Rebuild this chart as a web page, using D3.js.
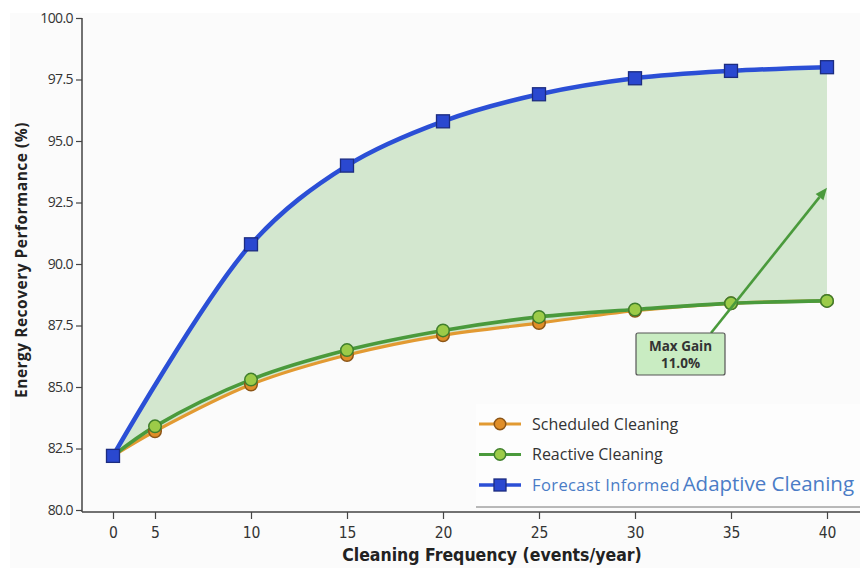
<!DOCTYPE html>
<html>
<head>
<meta charset="utf-8">
<script src="https://cdn.jsdelivr.net/npm/d3@7"></script>
<style>
  html, body { margin: 0; padding: 0; background: #ffffff; }
  svg { display: block; }
</style>
</head>
<body>
<svg id="chart" width="860" height="568"></svg>
<script>
// Cleaning frequency (events/year)
const frequency = [0, 5, 10, 15, 20, 25, 30, 35, 40];
const xTicks = [0, 5, 10, 15, 20, 25, 30, 35, 40];
const yTicks = [80, 82.5, 85, 87.5, 90, 92.5, 95, 97.5, 100];

// Energy recovery performance (%) per strategy
const scheduled = [82.2, 83.2, 85.1, 86.3, 87.1, 87.6, 88.1, 88.4, 88.5];
const reactive  = [82.2, 83.4, 85.3, 86.5, 87.3, 87.85, 88.15, 88.4, 88.5];
const adaptiveFreq = [0, 10, 15, 20, 25, 30, 35, 40];
const adaptive  = [82.2, 90.8, 94.0, 95.8, 96.9, 97.55, 97.85, 98.0];

const seriesNames = ["Scheduled Cleaning", "Reactive Cleaning", "Forecast Informed Adaptive Cleaning"];
const gainLabel = ["Max Gain", "11.0%"];
const arrowTip = { x: 40, y: 93.1 };

const svg = d3.select("#chart");
const W = 860, H = 568;
const plotLeft = 82, plotBottom = 512, plotTop = 18;

// the low end of the frequency axis is compressed
const x = d3.scaleLinear().domain([0, 5, 40]).range([113, 155, 827]);
const y = d3.scaleLinear().domain([80, 100]).range([510, 18]);

svg.append("rect").attr("x", 10).attr("y", 13).attr("width", W - 10).attr("height", H - 13)
  .attr("fill", "#fbfbfb");

// shaded band between adaptive and scheduled strategies
const curveLine = d3.line().x(d => x(d.f)).y(d => y(d.v)).curve(d3.curveCatmullRom.alpha(0.5));
const upperPath = curveLine(adaptiveFreq.map((f, i) => ({ f, v: adaptive[i] })));
const lowerRev = curveLine(frequency.map((f, i) => ({ f, v: scheduled[i] })).reverse());
svg.append("path")
  .attr("d", upperPath + "L" + lowerRev.slice(1) + "Z")
  .attr("fill", "#d3e7cf").attr("stroke", "none");

// axes
const yAxis = d3.axisLeft(y).tickValues(yTicks).tickFormat(d3.format(".1f")).tickSize(6).tickSizeOuter(0);
const gy = svg.append("g").attr("transform", `translate(${plotLeft},0)`).call(yAxis);
gy.select(".domain").attr("d", `M0,${plotTop}V${plotBottom}`).attr("stroke", "#444").attr("stroke-width", 1.5);
gy.selectAll(".tick line").attr("stroke", "#444").attr("stroke-width", 1.2);
gy.selectAll(".tick text").attr("font-family", "'Open Sans', 'DejaVu Sans', sans-serif")
  .attr("font-size", 14).attr("fill", "#333").attr("letter-spacing", "-0.6px");

const xAxis = d3.axisBottom(x).tickValues(xTicks).tickFormat(d3.format("d")).tickSize(7).tickSizeOuter(0);
const gx = svg.append("g").attr("transform", `translate(0,${plotBottom})`).call(xAxis);
gx.select(".domain").attr("d", `M${plotLeft},0H${W}`).attr("stroke", "#444").attr("stroke-width", 1.5);
gx.selectAll(".tick line").attr("stroke", "#444").attr("stroke-width", 1.2);
gx.selectAll(".tick text").attr("font-family", "'DejaVu Sans Condensed', 'DejaVu Sans', sans-serif")
  .attr("font-size", 15.5).attr("fill", "#333").attr("dy", "1.0em");

// axis titles
svg.append("text").attr("x", 492).attr("y", 561).attr("text-anchor", "middle")
  .attr("font-family", "'DejaVu Sans Condensed', 'DejaVu Sans', sans-serif")
  .attr("font-weight", "bold").attr("font-size", 17.5).attr("fill", "#222")
  .text("Cleaning Frequency (events/year)");
svg.append("text").attr("transform", "translate(27,260) rotate(-90)").attr("text-anchor", "middle")
  .attr("font-family", "'Open Sans', 'DejaVu Sans', sans-serif")
  .attr("font-weight", "bold").attr("font-size", 15.5).attr("fill", "#222")
  .attr("letter-spacing", "0.5px")
  .text("Energy Recovery Performance (%)");

// series lines
const series = [
  { name: seriesNames[0], f: frequency, v: scheduled, color: "#e29a32", width: 3.2, fill: "#e08e28", stroke: "#8c5516", shape: "circle" },
  { name: seriesNames[1], f: frequency, v: reactive, color: "#4a9a3c", width: 3.6, fill: "#9ccb48", stroke: "#3f7f2c", shape: "circle" },
  { name: seriesNames[2], f: adaptiveFreq, v: adaptive, color: "#2b4fd6", width: 4.5, fill: "#2a48d0", stroke: "#1c2c80", shape: "square" }
];

series.forEach(s => {
  const pts = s.f.map((f, i) => ({ f, v: s.v[i] }));
  svg.append("path").attr("d", curveLine(pts)).attr("fill", "none")
    .attr("stroke", s.color).attr("stroke-width", s.width).attr("stroke-linejoin", "round");
});

function drawMarker(g, s, cx, cy, size) {
  if (s.shape === "circle") {
    g.append("circle").attr("cx", cx).attr("cy", cy).attr("r", size / 2)
      .attr("fill", s.fill).attr("stroke", s.stroke).attr("stroke-width", 1.5);
  } else {
    g.append("rect").attr("x", cx - size / 2).attr("y", cy - size / 2)
      .attr("width", size).attr("height", size)
      .attr("fill", s.fill).attr("stroke", s.stroke).attr("stroke-width", 1.3);
  }
}
const mk = svg.append("g");
series.forEach(s => {
  s.f.forEach((f, i) => {
    if (s.shape === "circle" && f === 0) return;
    drawMarker(mk, s, x(f), y(s.v[i]), s.shape === "square" ? 13 : 12.5);
  });
});

// annotation arrow and label
const boxX = 636, boxY = 333, boxW = 89, boxH = 42;
const startX = 711, startY = boxY;
const tipX = x(arrowTip.x), tipY = y(arrowTip.y);
const ang = Math.atan2(tipY - startY, tipX - startX);
const headLen = 12, headW = 5;
const baseX = tipX - headLen * Math.cos(ang), baseY = tipY - headLen * Math.sin(ang);
svg.append("line").attr("x1", startX).attr("y1", startY).attr("x2", baseX).attr("y2", baseY)
  .attr("stroke", "#4a9a3c").attr("stroke-width", 2.6);
svg.append("path")
  .attr("d", `M${tipX},${tipY}L${baseX + headW * Math.sin(ang)},${baseY - headW * Math.cos(ang)}L${baseX - headW * Math.sin(ang)},${baseY + headW * Math.cos(ang)}Z`)
  .attr("fill", "#4a9a3c");
svg.append("rect").attr("x", boxX).attr("y", boxY).attr("width", boxW).attr("height", boxH)
  .attr("rx", 2).attr("fill", "#c9ecc2").attr("stroke", "#555").attr("stroke-width", 1.2);
svg.append("text").attr("x", boxX + boxW / 2).attr("y", boxY + 18).attr("text-anchor", "middle")
  .attr("font-family", "'Open Sans', 'DejaVu Sans', sans-serif").attr("font-weight", "bold")
  .attr("font-size", 13.5).attr("fill", "#333").text(gainLabel[0]);
svg.append("text").attr("x", boxX + boxW / 2).attr("y", boxY + 35).attr("text-anchor", "middle")
  .attr("font-family", "'Open Sans', 'DejaVu Sans', sans-serif").attr("font-weight", "bold")
  .attr("font-size", 13.5).attr("fill", "#333").text(gainLabel[1]);

// legend
const lg = svg.append("g");
lg.append("rect").attr("x", 476).attr("y", 404).attr("width", W - 476).attr("height", 103).attr("fill", "#fdfdfd");
lg.append("line").attr("x1", 476).attr("x2", W).attr("y1", 507).attr("y2", 507)
  .attr("stroke", "#777").attr("stroke-width", 1.2);
series.forEach((s, i) => {
  const ly = 424 + i * 30.5;
  lg.append("line").attr("x1", 479).attr("x2", 521).attr("y1", ly).attr("y2", ly)
    .attr("stroke", s.color).attr("stroke-width", s.width > 4 ? 3.5 : 3);
  drawMarker(lg, s, 500, ly, s.shape === "square" ? 12 : 11.5);
});
const legFont = "'Open Sans', 'DejaVu Sans', sans-serif";
lg.append("text").attr("x", 532).attr("y", 430).attr("font-family", legFont).attr("font-size", 16)
  .attr("fill", "#333").text(seriesNames[0]);
lg.append("text").attr("x", 532).attr("y", 460).attr("font-family", legFont).attr("font-size", 16)
  .attr("fill", "#333").text(seriesNames[1]);
const t3 = lg.append("text").attr("x", 532).attr("y", 491).attr("font-family", legFont).attr("fill", "#4a7cc6");
t3.append("tspan").attr("font-size", 16.5).attr("letter-spacing", "0.4px").text("Forecast Informed ");
t3.append("tspan").attr("font-size", 20.5).attr("dx", -2).text("Adaptive Cleaning");
</script>
</body>
</html>
